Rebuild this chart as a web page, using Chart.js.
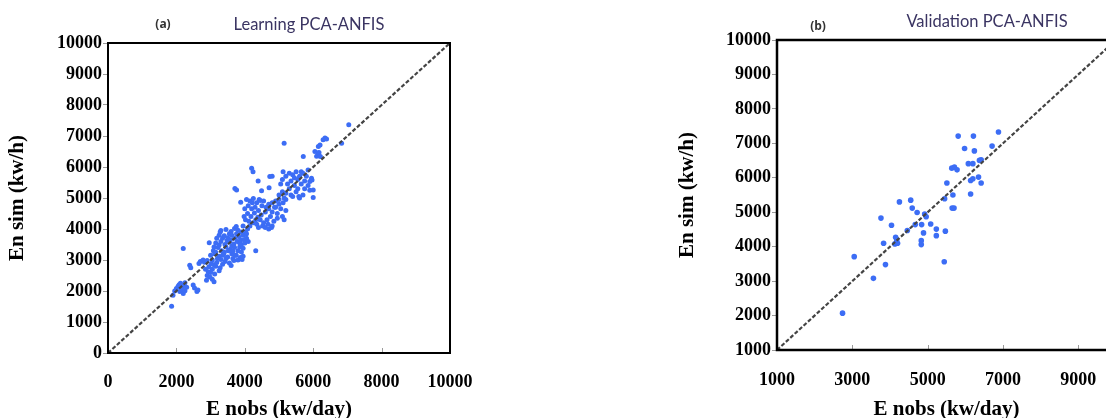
<!DOCTYPE html>
<html>
<head>
<meta charset="utf-8">
<script src="https://cdn.jsdelivr.net/npm/chart.js@4.4.1/dist/chart.umd.min.js"></script>
<style>
  html, body { margin: 0; padding: 0; background: #fff; overflow: hidden; width: 1106px; height: 418px; }
  .panel { position: absolute; top: 0; }
  #panelA { left: 0; }
  #panelB { left: 670px; }
</style>
</head>
<body>
<div class="panel" id="panelA"><canvas id="chartA" width="500" height="418"></canvas></div>
<div class="panel" id="panelB"><canvas id="chartB" width="490" height="418"></canvas></div>
<script>
// (a) learning set: [E nobs, En sim]
const learnLow = [
  [1860,1510],[1900,1860],[1950,2000],[2000,2080],[2050,2150],[2080,2200],[2100,1980],[2120,2250],
  [2150,2100],[2180,2050],[2200,1920],[2220,2180],[2250,2010],[2300,2120],[2250,2270],[2200,3370],
  [2390,2830],[2420,2750],[2490,2190],[2530,2100],[2600,1980],[2630,2030],[2660,2890],[2700,2950],
  [2780,3000],[2820,2930],[2880,2350],[2900,2500],[2930,2620],[2850,2700]
];
const learnMid = [
  [2900,2980],[2950,2780],[2960,3560],[2980,2450],[3000,3150],[3000,2600],[3020,2880],[3050,3000],
  [3050,2700],[3050,2380],[3080,3300],[3100,2850],[3100,2300],[3100,3420],[3120,3200],[3120,2550],
  [3150,3550],[3150,2800],[3150,3250],[3180,2920],[3180,3700],[3200,3050],[3220,3400],[3250,3800],
  [3250,3120],[3250,2650],[3250,3480],[3280,2750],[3280,3900],[3300,3600],[3300,3020],[3300,3950],
  [3320,3300],[3350,3700],[3350,2860],[3350,3150],[3380,3180],[3400,3780],[3400,3250],[3420,3500],
  [3420,2950],[3450,3980],[3450,3420],[3450,3050],[3480,3620],[3500,3720],[3500,3100],[3520,3300],
  [3550,3850],[3550,3580],[3550,2900],[3580,3350],[3580,3650],[3600,3920],[3600,2820],[3620,3800],
  [3620,3200],[3620,3450],[3650,3280],[3650,3050],[3680,3520],[3680,2980],[3700,4020],[3700,3700],
  [3700,3400],[3720,3150],[3750,4080],[3750,3150],[3760,3850],[3780,3600],[3800,3960],[3800,3300],
  [3800,3000],[3820,3760],[3850,3420],[3850,3550],[3870,3080],[3880,3650],[3900,3900],[3900,3500],
  [3900,3260],[3920,3020],[3950,3800],[3950,3380],[3950,3120],[3980,3650],[4000,3550],[4020,3900],
  [4050,3850],[4050,3700],[4080,4000],[4100,3600]
];
const learnHigh = [
  [3950,4100],[3980,4400],[4000,4650],[4020,4300],[4050,4950],[4080,4500],[4100,4750],[4120,4250],
  [4150,4900],[4150,4100],[4180,4400],[4200,4650],[4220,4850],[4250,4200],[4250,4980],[4280,4520],
  [4300,4700],[4320,4300],[4350,4850],[4350,4150],[4380,4380],[4400,4600],[4400,4050],[4420,4950],
  [4450,4300],[4450,4920],[4480,4450],[4500,4750],[4520,4100],[4550,4200],[4550,4900],[4600,4550],
  [4600,4050],[4620,4700],[4650,4300],[4680,4150],[4700,4000],[4700,4650],[4700,4800],[4750,4400],
  [4780,4050],[4800,4100],[4800,4550],[4800,4850],[4850,4250],[4870,4700],[4900,4700],[4900,4900],
  [4950,4500],[4950,4350],[5000,4800],[5000,4950],[5050,4650],[5100,4400],[5120,4850],[5150,4300],
  [5200,4600],[5200,4950],
  [5000,5100],[5050,5450],[5100,5200],[5100,5600],[5150,5000],[5200,5150],[5200,5700],[5250,5450],
  [5300,5300],[5300,5800],[5350,5550],[5350,5100],[5400,5050],[5400,5750],[5450,5400],[5450,5650],
  [5500,5200],[5500,5850],[5550,5600],[5550,5300],[5580,5050],[5600,5000],[5600,5700],[5650,5450],
  [5650,5850],[5700,5100],[5700,5800],[5750,5550],[5750,5300],[5800,5700],[5850,5400],[5850,5900],
  [5900,5250],[5900,5530],[5950,5640],[5965,5580],[6000,5020],[6000,5260]
];
const learnOutliers = [
  [3710,5310],[3760,5260],[3880,4860],[4200,5960],[4240,5850],[4390,5550],[4490,5230],[4710,5330],
  [4730,5690],[4800,5700],[4320,3300],[5120,5850],[5150,6770],[5710,6340],[6050,6500],[6100,6350],
  [6140,6450],[6150,6660],[6170,6470],[6200,6710],[6210,6340],[6290,6880],[6345,6935],[6390,6900],
  [6830,6770],[7040,7360]
];

// (b) validation set: [E nobs, En sim]
const validPts = [
  [2740,2070],[3050,3710],[3560,3080],[3880,3480],[3760,4830],[3830,4100],[4040,4620],[4150,4270],
  [4130,4080],[4200,4100],[4180,4200],[4250,5300],[4460,4470],[4550,5350],[4590,5120],[4720,4990],
  [4670,4640],[4840,4640],[4920,4950],[4960,4870],[4890,4400],[4830,4175],[4830,4060],[5080,4660],
  [5230,4510],[5230,4320],[5470,4450],[5440,3560],[5450,5390],[5510,5850],[5650,5120],[5700,5120],
  [5670,5500],[5640,6280],[5710,6310],[5780,6230],[5810,7210],[5980,6850],[6080,6410],[6200,6410],
  [6140,5920],[6200,5970],[6140,5530],[6215,7210],[6240,6780],[6375,6505],[6350,6020],[6420,5850],
  [6420,6520],[6710,6920],[6880,7330]
];

// 1:1 reference line
const diagA = [0, 10000];
const diagB = [1000, 10000];

// tick labels
const xTicksA = [0, 2000, 4000, 6000, 8000, 10000];
const yTicksA = [0, 1000, 2000, 3000, 4000, 5000, 6000, 7000, 8000, 9000, 10000];
const xTicksB = [1000, 3000, 5000, 7000, 9000];
const yTicksB = [1000, 2000, 3000, 4000, 5000, 6000, 7000, 8000, 9000, 10000];

const learnPts = [...learnLow, ...learnMid, ...learnHigh, ...learnOutliers];

const pointBlue = '#3c6df5';
const serif = '"Liberation Serif", "Times New Roman", serif';

const framePlugin = {
  id: 'frame',
  afterDatasetsDraw(chart, args, o) {
    const { ctx, chartArea: a } = chart;
    const xs = chart.scales.x;
    ctx.save();
    // inward tick marks on the x axis
    ctx.strokeStyle = '#9a9a9a';
    ctx.lineWidth = 1;
    xs.ticks.forEach(t => {
      const px = Math.round(xs.getPixelForValue(t.value)) + 0.5;
      ctx.beginPath();
      ctx.moveTo(px, a.bottom);
      ctx.lineTo(px, a.bottom - 5);
      ctx.stroke();
    });
    ctx.strokeStyle = '#000';
    ctx.lineWidth = o.width;
    ctx.strokeRect(a.left, a.top, a.right - a.left, a.bottom - a.top);
    ctx.restore();
  }
};

const headingPlugin = {
  id: 'heading',
  afterDraw(chart, args, o) {
    const ctx = chart.ctx;
    ctx.save();
    ctx.textAlign = 'center';
    ctx.textBaseline = 'middle';
    ctx.fillStyle = '#333';
    ctx.font = 'bold 12px "Open Sans"';
    ctx.fillText(o.tag, o.tagX, o.tagY);
    ctx.fillStyle = '#3a3462';
    ctx.font = '16.5px Lato';
    ctx.fillText(o.text, o.textX, o.textY);
    ctx.restore();
  }
};

const fixTicks = list => scale => { scale.ticks = list.map(v => ({ value: v })); };

function makeScatter(id, p) {
  return new Chart(document.getElementById(id), {
    type: 'scatter',
    data: {
      datasets: [
        {
          type: 'line',
          data: p.diag.map(v => ({ x: v, y: v })),
          borderColor: '#444',
          borderWidth: 2.2,
          borderDash: [4, 2],
          pointRadius: 0,
          fill: false,
          order: 0,
        },
        {
          data: p.pts.map(([x, y]) => ({ x, y })),
          backgroundColor: pointBlue,
          borderWidth: 0,
          pointRadius: p.radius,
          order: 1,
        },
      ],
    },
    options: {
      responsive: false,
      animation: false,
      layout: { padding: { left: 0, right: p.padRight, top: p.padTop, bottom: 0 } },
      plugins: {
        legend: { display: false },
        tooltip: { enabled: false },
        frame: { width: p.frameWidth },
        heading: p.heading,
      },
      scales: {
        x: {
          type: 'linear', min: p.xMin, max: 10000,
          grid: { display: false },
          border: { display: false },
          afterBuildTicks: fixTicks(p.xTicks),
          ticks: {
            maxRotation: 0, autoSkip: false, padding: p.xPad, color: '#000',
            font: { family: serif, size: 18, weight: 'bold' },
            callback: v => String(v),
          },
          title: {
            display: true, text: 'E nobs (kw/day)', color: '#000',
            font: { family: serif, size: 21, weight: 'bold' }, padding: { top: 0, bottom: -4 },
          },
          afterFit: s => { s.height = p.xHeight; },
        },
        y: {
          type: 'linear', min: p.yMin, max: 10000,
          grid: { display: true, drawOnChartArea: false, drawTicks: true, tickLength: 5, color: '#9a9a9a' },
          border: { display: false },
          afterBuildTicks: fixTicks(p.yTicks),
          ticks: {
            autoSkip: false, padding: 1, color: '#000',
            font: { family: serif, size: 18, weight: 'bold' },
            callback: v => String(v),
          },
          title: {
            display: true, text: 'En sim (kw/h)', color: '#000',
            font: { family: serif, size: 21, weight: 'bold' }, padding: { top: 5, bottom: 0 },
          },
          afterFit: s => { s.width = p.yWidth; },
        },
      },
    },
    plugins: [framePlugin, headingPlugin],
  });
}

makeScatter('chartA', {
  pts: learnPts, diag: diagA, radius: 2.5,
  xMin: 0, yMin: 0, xTicks: xTicksA, yTicks: yTicksA,
  padTop: 43, padRight: 50, yWidth: 108, xHeight: 65, xPad: 11, frameWidth: 2,
  heading: { tag: '(a)', tagX: 163, tagY: 25, text: 'Learning PCA-ANFIS', textX: 309, textY: 25 },
});

makeScatter('chartB', {
  pts: validPts, diag: diagB, radius: 2.8,
  xMin: 1000, yMin: 1000, xTicks: xTicksB, yTicks: yTicksB,
  padTop: 40, padRight: 44, yWidth: 107, xHeight: 68, xPad: 12, frameWidth: 2.5,
  heading: { tag: '(b)', tagX: 148, tagY: 27, text: 'Validation PCA-ANFIS', textX: 317, textY: 22 },
});
</script>
</body>
</html>
